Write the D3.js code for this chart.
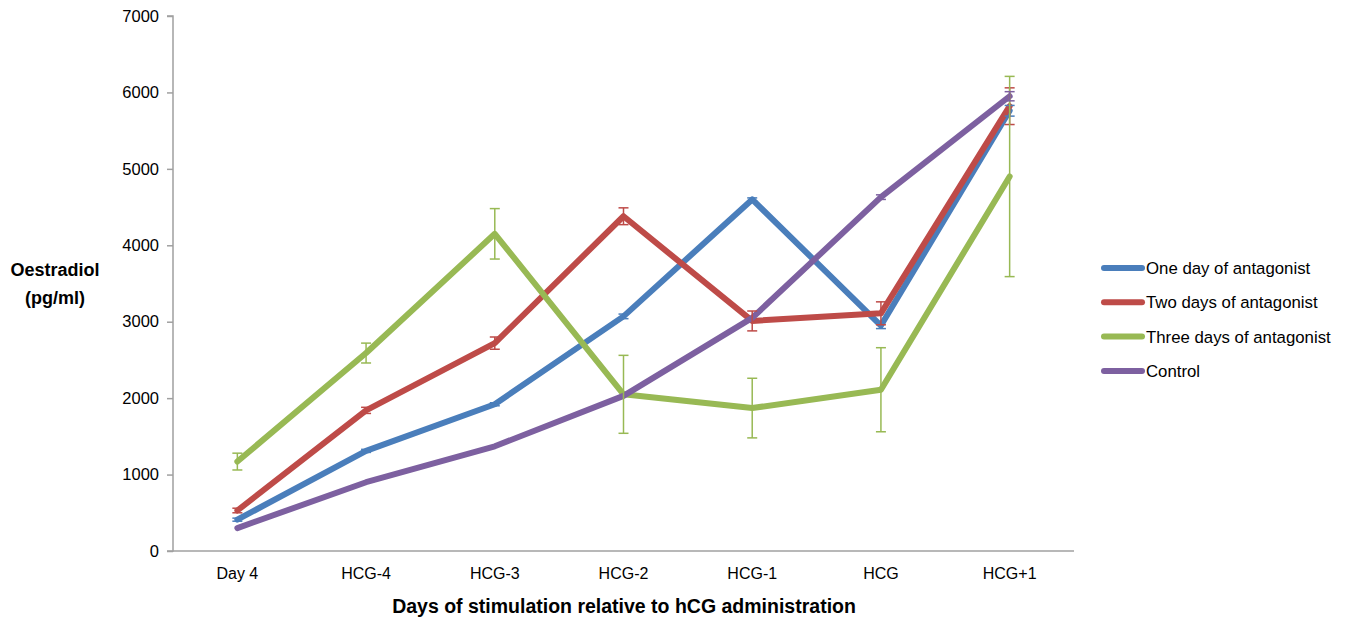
<!DOCTYPE html>
<html><head><meta charset="utf-8">
<script src="https://cdn.jsdelivr.net/npm/d3@7"></script>
<style>body{margin:0;background:#fff}svg{display:block}</style>
</head><body><div id="chart"></div>
<script>
const categories = ["Day 4","HCG-4","HCG-3","HCG-2","HCG-1","HCG","HCG+1"];
const seriesNames = ["One day of antagonist","Two days of antagonist","Three days of antagonist","Control"];
const oneDay     = [410, 1310, 1920, 3070, 4600, 2950, 5760];
const oneDayErr  = [20, 20, 20, 30, 20, 40, 70];
const twoDays    = [530, 1840, 2720, 4380, 3010, 3110, 5820];
const twoDaysErr = [30, 40, 80, 110, 130, 150, 240];
const threeDays    = [1170, 2590, 4150, 2050, 1870, 2110, 4900];
const threeDaysErr = [110, 130, 330, 510, 390, 550, 1310];
const control    = [300, 900, 1370, 2030, 3050, 4630, 5950];
const controlErr = [0, 0, 0, 0, 0, 30, 60];
const yTicks = [0,1000,2000,3000,4000,5000,6000,7000];
const colors = ["#4a7ebb","#be4b48","#98b954","#7d60a0"];

const series = [
  {name:seriesNames[0], values:oneDay, err:oneDayErr, color:colors[0]},
  {name:seriesNames[1], values:twoDays, err:twoDaysErr, color:colors[1]},
  {name:seriesNames[2], values:threeDays, err:threeDaysErr, color:colors[2]},
  {name:seriesNames[3], values:control, err:controlErr, color:colors[3]}
];

const W=1353,H=620;
const svg=d3.select("#chart").append("svg").attr("width",W).attr("height",H);
const x=d3.scaleBand().domain(categories).range([173,1074]);
const y=d3.scaleLinear().domain([0,7000]).range([551,16]);
const font="'Liberation Sans', Arial, sans-serif";

// y axis
const ya=svg.append("g").attr("transform","translate(173,0)")
  .call(d3.axisLeft(y).tickValues(yTicks).tickSize(6).tickPadding(8).tickFormat(d3.format("d")));
ya.selectAll("path,line").attr("stroke","#a0a0a0").attr("stroke-width",1.5);
ya.select(".domain").attr("d","M-6,16H0V551H-6").attr("fill","none");
ya.selectAll("text").attr("font-family",font).attr("font-size",16.5).attr("fill","#000");

// x axis
const xa=svg.append("g").attr("transform","translate(0,551)")
  .call(d3.axisBottom(x).tickSize(0).tickPadding(17));
xa.select(".domain").attr("stroke","#a0a0a0").attr("stroke-width",1.5).attr("d","M173,0H1074");
xa.selectAll("text").attr("font-family",font).attr("font-size",16).attr("fill","#000");

const cx=c=>x(c)+x.bandwidth()/2;
const line=d3.line().x((d,i)=>cx(categories[i])).y(d=>y(d));

// lines
series.forEach(s=>{
  svg.append("path").datum(s.values).attr("d",line).attr("fill","none")
    .attr("stroke",s.color).attr("stroke-width",6).attr("stroke-linejoin","round").attr("stroke-linecap","round");
});
// error bars
series.forEach(s=>{
  const g=svg.append("g").attr("stroke",s.color).attr("stroke-width",1.5);
  s.values.forEach((v,i)=>{
    const e=s.err[i]; if(!e) return;
    const px=cx(categories[i]);
    g.append("line").attr("x1",px).attr("x2",px).attr("y1",y(v+e)).attr("y2",y(v-e));
    g.append("line").attr("x1",px-5).attr("x2",px+5).attr("y1",y(v+e)).attr("y2",y(v+e));
    g.append("line").attr("x1",px-5).attr("x2",px+5).attr("y1",y(v-e)).attr("y2",y(v-e));
  });
});

// legend
const lg=svg.append("g");
series.forEach((s,i)=>{
  const ly=268+i*34.3;
  lg.append("line").attr("x1",1104).attr("x2",1142).attr("y1",ly).attr("y2",ly)
    .attr("stroke",s.color).attr("stroke-width",6).attr("stroke-linecap","round");
  lg.append("text").attr("x",1146).attr("y",ly+6).text(s.name)
    .attr("font-family",font).attr("font-size",16.8).attr("fill","#000");
});

// axis titles
svg.append("text").attr("x",55).attr("y",276).attr("text-anchor","middle")
  .attr("font-family",font).attr("font-weight","bold").attr("font-size",18).text("Oestradiol");
svg.append("text").attr("x",55).attr("y",304).attr("text-anchor","middle")
  .attr("font-family",font).attr("font-weight","bold").attr("font-size",18).text("(pg/ml)");
svg.append("text").attr("x",624).attr("y",613).attr("text-anchor","middle")
  .attr("font-family",font).attr("font-weight","bold").attr("font-size",19.5).text("Days of stimulation relative to hCG administration");
</script></body></html>
